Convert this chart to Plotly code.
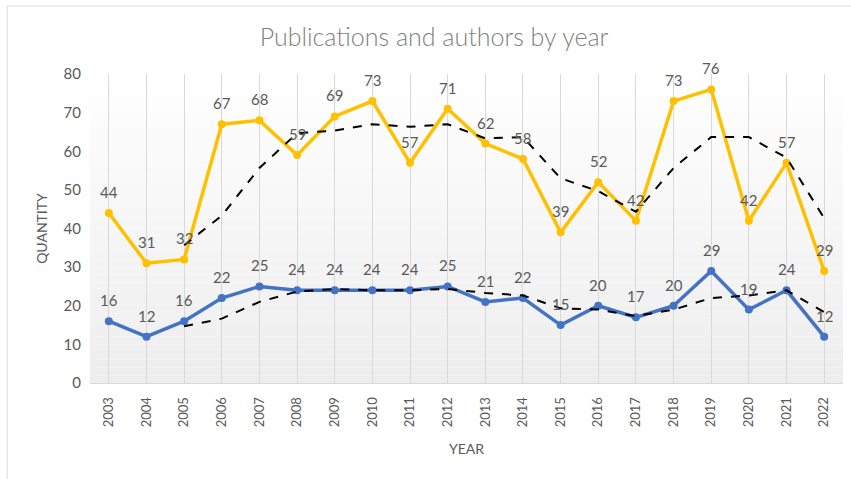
import plotly.graph_objects as go
import pandas as pd

years = [str(y) for y in range(2003, 2023)]
authors = [44, 31, 32, 67, 68, 59, 69, 73, 57, 71, 62, 58, 39, 52, 42, 73, 76, 42, 57, 29]
publications = [16, 12, 16, 22, 25, 24, 24, 24, 24, 25, 21, 22, 15, 20, 17, 20, 29, 19, 24, 12]
y_ticks = [0, 10, 20, 30, 40, 50, 60, 70, 80]

# Excel-style 3-period moving average trendlines
auth_ma = pd.Series(authors).rolling(3).mean().tolist()
pub_ma = pd.Series(publications).rolling(3).mean().tolist()

FONT = "Lato"
LBL = "#595959"
YEL = "#FFC000"
BLU = "#4472C4"

fig = go.Figure()

# gradient background of plot area
n = 40
for i in range(n):
    t = i / (n - 1)
    c = int(255 - (255 - 238) * t)
    fig.add_shape(type="rect", xref="x domain", yref="y domain",
                  x0=0, x1=1, y0=1 - (i + 1) / n, y1=1 - i / n,
                  fillcolor=f"rgb({c},{c},{c})", line_width=0, layer="below")

fig.add_trace(go.Scatter(x=years, y=authors, mode="lines+markers", name="Authors",
                         line=dict(color=YEL, width=3.5),
                         marker=dict(color=YEL, size=8)))
fig.add_trace(go.Scatter(x=years, y=publications, mode="lines+markers", name="Publications",
                         line=dict(color=BLU, width=3.5),
                         marker=dict(color=BLU, size=8)))
fig.add_trace(go.Scatter(x=years, y=auth_ma, mode="lines", name="MA authors",
                         line=dict(color="black", width=2, dash="dash")))
fig.add_trace(go.Scatter(x=years, y=pub_ma, mode="lines", name="MA publications",
                         line=dict(color="black", width=2, dash="dash")))

for series in (authors, publications):
    for i, v in enumerate(series):
        fig.add_annotation(x=i, y=v, text=str(v), showarrow=False, yshift=21,
                           font=dict(family=FONT, size=15, color=LBL))

fig.update_layout(
    width=851, height=479,
    margin=dict(l=90, r=8, t=74, b=96),
    paper_bgcolor="white", plot_bgcolor="rgba(0,0,0,0)",
    showlegend=False,
    title=dict(text="Publications and authors by year", x=0.51, xanchor="center",
               y=0.923, yanchor="middle",
               font=dict(family=FONT, size=25, color="#7f7f7f", weight=300)),
    font=dict(family=FONT, color=LBL),
)
fig.update_xaxes(type="category", range=[-0.5, len(years) - 0.5],
                 showgrid=True, gridcolor="#d9d9d9", gridwidth=1,
                 tickangle=-90, tickfont=dict(family=FONT, size=13, color=LBL),
                 showline=True, linecolor="#d9d9d9", ticks="", ticklabelstandoff=8,
                 title=dict(text="YEAR", font=dict(family=FONT, size=14, color=LBL), standoff=17))
fig.update_yaxes(range=[0, 80], tickvals=y_ticks, showgrid=False, zeroline=False,
                 tickfont=dict(family=FONT, size=15, color=LBL), ticks="", ticklabelstandoff=8,
                 title=dict(text="QUANTITY", font=dict(family=FONT, size=14, color=LBL), standoff=12))

# outer chart frame
fig.add_shape(type="rect", xref="paper", yref="paper", x0=-0.110, x1=1.03, y0=-0.35, y1=1.22,
              line=dict(color="#d9d9d9", width=1), fillcolor="rgba(0,0,0,0)", layer="below")

fig.write_html("out.html", config={"displayModeBar": False},
               post_script="document.body.style.margin='0';")
